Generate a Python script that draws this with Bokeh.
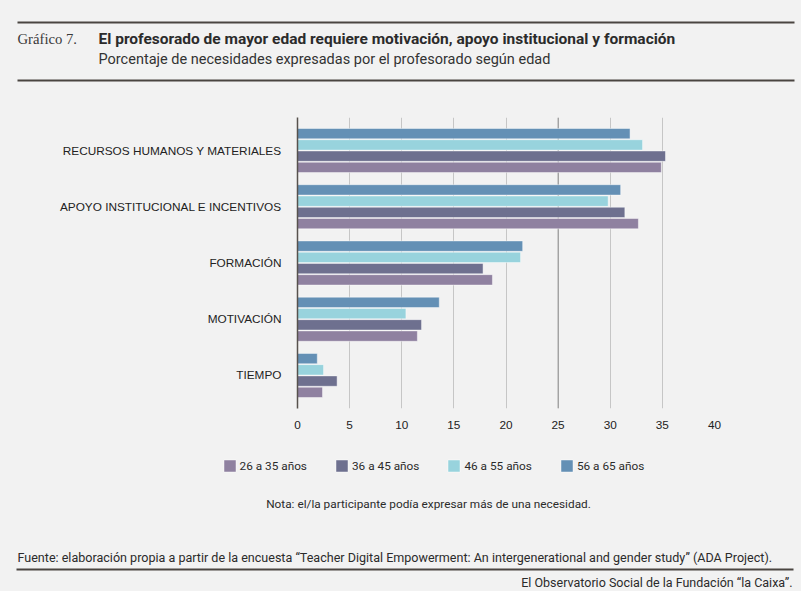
#!/usr/bin/env python3
"""
Gráfico 7: necesidades expresadas por el profesorado según edad.

Grouped horizontal bar chart with a header block and a footer block,
written to out.html with Bokeh's JavaScript inline.
"""

from bokeh.core.properties import value
from bokeh.embed import file_html
from bokeh.layouts import column
from bokeh.models import (ColumnDataSource, FactorRange, FixedTicker, Legend,
                          LegendItem, Range1d, Span)
from bokeh.plotting import figure
from bokeh.resources import INLINE
from bokeh.transform import dodge

# Data (percent of teachers)
needs = [
    "RECURSOS HUMANOS Y MATERIALES",
    "APOYO INSTITUCIONAL E INCENTIVOS",
    "FORMACIÓN",
    "MOTIVACIÓN",
    "TIEMPO",
]
age_groups = ["26 a 35 años", "36 a 45 años", "46 a 55 años", "56 a 65 años"]
pct_26_35 = [34.9, 32.7, 18.7, 11.5, 2.4]
pct_36_45 = [35.3, 31.4, 17.8, 11.9, 3.8]
pct_46_55 = [33.1, 29.8, 21.4, 10.4, 2.5]
pct_56_65 = [31.9, 31.0, 21.6, 13.6, 1.9]
x_ticks = [0, 5, 10, 15, 20, 25, 30, 35, 40]
highlight_tick = 25

# Texts
chart_label = "Gráfico 7."
title = ("El profesorado de mayor edad requiere motivación, "
         "apoyo institucional y formación")
subtitle = "Porcentaje de necesidades expresadas por el profesorado según edad"
note = "Nota: el/la participante podía expresar más de una necesidad."
source_note = ("Fuente: elaboración propia a partir de la encuesta “Teacher "
               "Digital Empowerment: An intergenerational and gender study” "
               "(ADA Project).")
credit = "El Observatorio Social de la Fundación “la Caixa”."

# Styling
BG = "#f2f2f2"
RULE = "#4a4541"
TEXT = "#2b2b2b"
SANS = "Roboto"
COLORS = ["#8f81a0", "#6e708f", "#98d3dd", "#6490b5"]
OFFSETS = [-0.3, -0.1, 0.1, 0.3]
BAR_STYLE = dict(line_color="white", line_alpha=0.45, line_width=1)
WIDTH = 801

HEADER_H = 88
CHART_H = 350
FOOTER_H = 591 - HEADER_H - CHART_H


def page_figure(*, height: int, top: int) -> figure:
    """Blank figure whose data coordinates are page pixels."""
    p = figure(
        width=WIDTH, height=height,
        x_range=Range1d(0, WIDTH),
        y_range=Range1d(top + height, top),
        x_axis_type=None, y_axis_type=None,
        toolbar_location=None, output_backend="svg",
        min_border=0, frame_align=False,
    )
    p.outline_line_color = None
    p.background_fill_color = BG
    p.border_fill_color = BG
    return p


def put_text(p, x, y, text, *, size="12px", font=SANS, style="normal",
             align="left", color=TEXT):
    p.text(x=[x], y=[y], text=[text], text_font=value(font),
           text_font_size=size, text_font_style=style, text_align=align,
           text_baseline="middle", text_color=color)


def make_header() -> figure:
    head = page_figure(height=HEADER_H, top=0)
    head.segment(x0=[17, 17], y0=[22, 80], x1=[794, 794], y1=[22, 80],
                 line_color=RULE, line_width=2)
    put_text(head, 17, 38, chart_label, size="14.7px",
             font="Liberation Serif", color="#3a3a3a")
    put_text(head, 98, 38, title, size="15.5px", style="bold")
    put_text(head, 98, 59, subtitle, size="14.5px", color="#333333")
    return head


def make_chart() -> figure:
    p = figure(
        width=WIDTH, height=CHART_H,
        y_range=FactorRange(factors=needs[::-1], range_padding=0.035),
        x_range=Range1d(0, 40),
        toolbar_location=None, output_backend="svg",
        min_border_left=297, min_border_right=87,
        min_border_top=29, min_border_bottom=CHART_H - 29 - 291,
        frame_align=False,
    )
    p.background_fill_color = BG
    p.border_fill_color = BG
    p.outline_line_color = None

    # Darker reference line at 25 %
    p.add_layout(Span(location=highlight_tick, dimension="height",
                      line_color="#8e8e8e", line_width=1, level="underlay"))

    series = [pct_26_35, pct_36_45, pct_46_55, pct_56_65]
    for vals, color, off in zip(series, COLORS, OFFSETS):
        src = ColumnDataSource(dict(need=needs, pct=vals))
        p.hbar(y=dodge("need", off, range=p.y_range), left=0, right="pct",
               height=0.185, source=src, fill_color=color, **BAR_STYLE)

    # Axes
    p.xaxis.ticker = FixedTicker(ticks=x_ticks)
    p.xaxis.axis_line_color = None
    p.xaxis.major_tick_line_color = None
    p.xaxis.minor_tick_line_color = None
    p.xaxis.major_label_standoff = 6
    p.yaxis.axis_line_color = "#57524d"
    p.yaxis.axis_line_width = 1.5
    p.yaxis.major_tick_line_color = None
    p.yaxis.minor_tick_line_color = None
    p.yaxis.major_label_standoff = 10
    for ax in (p.xaxis, p.yaxis):
        ax.major_label_text_font = "Liberation Sans"
        ax.major_label_text_font_size = "11.8px"
        ax.major_label_text_color = "#222222"

    p.xgrid.ticker = FixedTicker(ticks=x_ticks)
    p.xgrid.grid_line_color = "#c6c6c6"
    p.ygrid.grid_line_color = None
    return p


def make_footer() -> figure:
    top = HEADER_H + CHART_H
    foot = page_figure(height=FOOTER_H, top=top)

    # Legend swatches: hidden one-point bars styled like the chart's series
    items = []
    for label, color in zip(age_groups, COLORS):
        r = foot.hbar(y=[0], left=[0], right=[1], height=1,
                      fill_color=color, visible=False, **BAR_STYLE)
        items.append(LegendItem(label=label, renderers=[r]))
    legend = Legend(items=items, orientation="horizontal",
                    location=(221.5, 591 - 458 - 15))
    legend.glyph_width = 15
    legend.glyph_height = 15
    legend.label_height = 15
    legend.label_standoff = 3
    legend.spacing = 27
    legend.padding = 0
    legend.margin = 0
    legend.border_line_color = None
    legend.background_fill_alpha = 0
    legend.label_text_font = SANS
    legend.label_text_font_size = "11.8px"
    legend.label_text_color = TEXT
    foot.add_layout(legend)

    put_text(foot, 428, 503, note, size="11.8px", align="center")
    put_text(foot, 17, 557, source_note, size="12.55px")
    foot.segment(x0=[16], y0=[569], x1=[793], y1=[569],
                 line_color=RULE, line_width=2)
    put_text(foot, 792, 582, credit, size="12.5px", align="right")
    return foot


if __name__ == "__main__":
    layout = column(make_header(), make_chart(), make_footer())
    html = file_html(layout, INLINE, "Gráfico 7")
    html = html.replace("<head>", "<head><style>body{background:#f2f2f2}</style>", 1)
    open("out.html", "w").write(html)
